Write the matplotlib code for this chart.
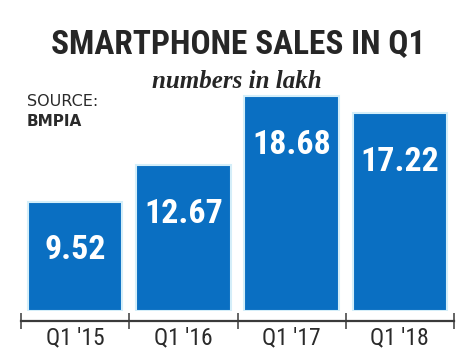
import matplotlib
matplotlib.use("Agg")
import matplotlib.pyplot as plt
from matplotlib import font_manager as fm

categories = ["Q1 '15", "Q1 '16", "Q1 '17", "Q1 '18"]
values = [9.52, 12.67, 18.68, 17.22]
value_labels = ["9.52", "12.67", "18.68", "17.22"]

def pick(fams):
    for f in fams:
        try:
            fm.findfont(fm.FontProperties(family=f), fallback_to_default=False)
            return f
        except Exception:
            pass
    return "DejaVu Sans"

narrow = pick(["Liberation Sans Narrow", "Roboto Condensed", "Open Sans Condensed", "Liberation Sans"])

W, H = 467, 360
fig = plt.figure(figsize=(W / 100, H / 100), dpi=100)
fig.patch.set_facecolor("white")

left = 21 / W
right = 454 / W
bottom = (H - 311) / H
height = 230 / H
ax = fig.add_axes([left, bottom, right - left, height])

x = [i + 0.5 for i in range(len(values))]
ax.bar(x, values, width=0.875, color="#0a6fc2", edgecolor="#d4eef9", linewidth=1.5)
ax.set_xlim(0, 4)
ax.set_ylim(0, 20)

for xi, v, lab in zip(x, values, value_labels):
    ax.annotate(lab, (xi, v), xytext=(0, -35), textcoords="offset points",
                ha="center", va="center", color="white", fontsize=24.5,
                fontweight="bold", family=narrow)

for s in ["top", "left", "right"]:
    ax.spines[s].set_visible(False)
ax.spines["bottom"].set_position(("outward", 7))
ax.spines["bottom"].set_color("#3a3a3a")
ax.spines["bottom"].set_linewidth(1.6)
ax.set_yticks([])
ax.set_xticks([0, 1, 2, 3, 4])
ax.set_xticklabels([])
ax.tick_params(axis="x", which="major", direction="inout", length=12, width=1.1, color="#3a3a3a")
ax.set_xticks(x, minor=True)
ax.set_xticklabels(categories, minor=True, fontsize=17, family=narrow, color="#2a2a2a")
ax.tick_params(axis="x", which="minor", length=0, pad=4)

fig.text(238 / W, 1 - 44 / H, "SMARTPHONE SALES IN Q1", ha="center", va="center",
         fontsize=24, fontweight="bold", family=narrow, color="#262626")
fig.text(237 / W, 1 - 82 / H, "numbers in lakh", ha="center", va="center",
         fontsize=18, fontweight="bold", style="italic", family="Liberation Serif", color="#262626")
fig.text(27 / W, 1 - 101 / H, "SOURCE:", ha="left", va="center",
         fontsize=11.5, family="DejaVu Sans", color="#2a2a2a")
fig.text(27 / W, 1 - 121 / H, "BMPIA", ha="left", va="center",
         fontsize=11, fontweight="bold", family="DejaVu Sans", color="#2a2a2a")

fig.savefig("out.png", dpi=100, facecolor="white")
